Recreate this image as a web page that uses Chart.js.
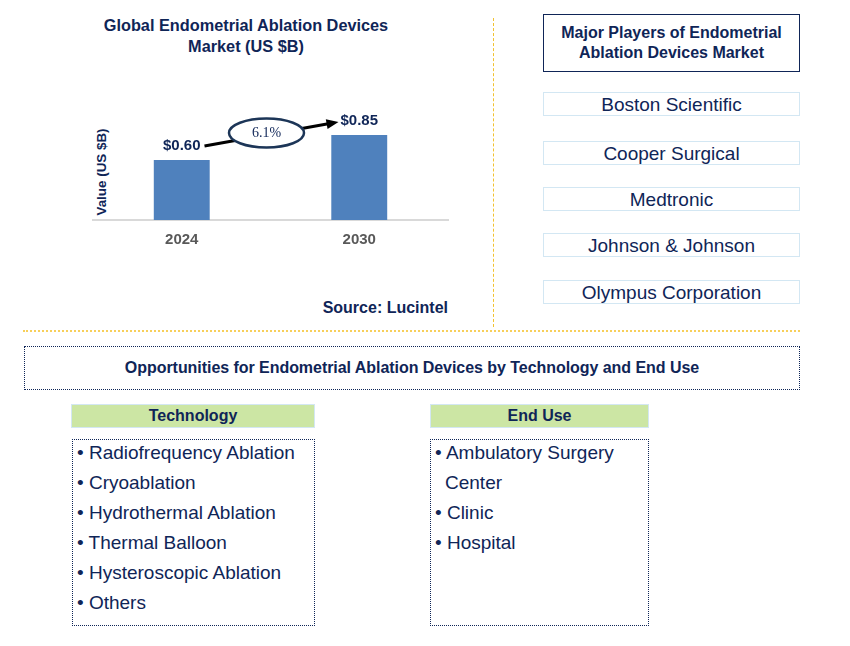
<!DOCTYPE html>
<html>
<head>
<meta charset="utf-8">
<script src="https://cdn.jsdelivr.net/npm/chart.js@4/dist/chart.umd.min.js"></script>
<style>
  body { margin: 0; width: 850px; height: 646px; background: #fff; font-family: "Liberation Sans", Arial, sans-serif; color: #0f2557; position: relative; overflow: hidden; }
  .abs { position: absolute; }
  .title { left: 86px; top: 15px; width: 320px; text-align: center; font-weight: bold; font-size: 16.3px; line-height: 21px; }
  .ytitle { left: 101px; top: 172px; transform: translate(-50%, -50%) rotate(-90deg); font-weight: bold; font-size: 13.4px; white-space: nowrap; }
  .source { left: 290px; top: 299px; width: 158px; text-align: right; font-weight: bold; font-size: 16px; }
  .vline { left: 493px; top: 18px; height: 309px; border-left: 1px dashed #f2c230; }
  .hline { left: 23px; top: 330px; width: 777px; border-top: 2px dotted #f7cf5a; }
  .head { left: 543px; top: 14px; width: 257px; height: 58px; border: 1px solid #0f2557; text-align: center; font-weight: bold; font-size: 16px; line-height: 20px; box-sizing: border-box; padding-top: 8px; }
  .player { left: 543px; width: 257px; height: 24px; border: 1.5px solid #d3e7f3; box-sizing: border-box; text-align: center; font-size: 19px; line-height: 23px; }
  .opp { left: 24px; top: 346px; width: 776px; height: 44px; border: 1px dotted #0f2557; box-sizing: border-box; text-align: center; font-weight: bold; font-size: 16px; line-height: 42px; letter-spacing: -0.05px; }
  .seg { height: 24px; background: #cce6a4; border: 1.5px solid #d3e7f3; box-sizing: border-box; text-align: center; font-weight: bold; font-size: 16px; line-height: 21px; top: 404px; }
  .list { top: 439px; height: 187px; border: 1px dotted #0f2557; box-sizing: border-box; font-size: 19px; line-height: 30px; padding: 0 0 0 4px; }
  .list div { white-space: nowrap; }
  .list div:first-child { margin-top: -2px; }
  .list div.cont { padding-left: 10px; }
</style>
</head>
<body>
<div class="abs title">Global Endometrial Ablation Devices<br>Market (US $B)</div>
<div class="abs ytitle">Value (US $B)</div>
<canvas id="c" class="abs" style="left:88px; top:80px;" width="370" height="180"></canvas>
<div class="abs source">Source: Lucintel</div>
<div class="abs vline"></div>
<div class="abs hline"></div>
<div class="abs head">Major Players of Endometrial<br>Ablation Devices Market</div>
<div id="players"></div>
<div class="abs opp">Opportunities for Endometrial Ablation Devices by Technology and End Use</div>
<div class="abs seg" style="left:71px; width:244px;">Technology</div>
<div class="abs seg" style="left:430px; width:219px;">End Use</div>
<div id="techList" class="abs list" style="left:72px; width:243px;"></div>
<div id="endList" class="abs list" style="left:430px; width:219px;"></div>
<script>
const years = ["2024", "2030"];
const values = [0.60, 0.85];
const valueLabels = ["$0.60", "$0.85"];
const cagr = "6.1%";
const players = ["Boston Scientific", "Cooper Surgical", "Medtronic", "Johnson & Johnson", "Olympus Corporation"];
const playerTops = [92, 141, 187, 233, 280];
const technology = ["Radiofrequency Ablation", "Cryoablation", "Hydrothermal Ablation", "Thermal Balloon", "Hysteroscopic Ablation", "Others"];
const endUse = [["Ambulatory Surgery", "Center"], ["Clinic"], ["Hospital"]];

const navy = "#0f2557";

// side panels
const pl = document.getElementById("players");
players.forEach((p, i) => {
  const d = document.createElement("div");
  d.className = "abs player";
  d.style.top = playerTops[i] + "px";
  d.textContent = p;
  pl.appendChild(d);
});
function fillList(el, items) {
  items.forEach(it => {
    const parts = Array.isArray(it) ? it : [it];
    parts.forEach((t, j) => {
      const d = document.createElement("div");
      if (j === 0) d.textContent = "\u2022 " + t;
      else { d.textContent = t; d.className = "cont"; }
      el.appendChild(d);
    });
  });
}
fillList(document.getElementById("techList"), technology);
fillList(document.getElementById("endList"), endUse);

// labels above bars + cagr arrow and bubble
const annotate = {
  id: "annotate",
  afterDatasetsDraw(chart) {
    const ctx = chart.ctx;
    const bars = chart.getDatasetMeta(0).data;
    ctx.save();
    ctx.font = "bold 15px 'Liberation Sans', Arial, sans-serif";
    ctx.fillStyle = navy;
    ctx.textAlign = "center";
    ctx.textBaseline = "middle";
    const pts = bars.map((b, i) => {
      const y = b.y - 14;
      ctx.fillText(valueLabels[i], b.x, y);
      const w = ctx.measureText(valueLabels[i]).width;
      return { x: b.x, y: y, w: w };
    });
    const x0 = pts[0].x + pts[0].w / 2 + 4, y0 = pts[0].y;
    const x1 = pts[1].x - pts[1].w / 2 - 2, y1 = pts[1].y + 1;
    const ang = Math.atan2(y1 - y0, x1 - x0);
    ctx.strokeStyle = "#000";
    ctx.lineWidth = 3;
    ctx.beginPath();
    ctx.moveTo(x0, y0);
    ctx.lineTo(x1 - 9 * Math.cos(ang), y1 - 9 * Math.sin(ang));
    ctx.stroke();
    ctx.fillStyle = "#000";
    ctx.beginPath();
    ctx.moveTo(x1, y1);
    ctx.lineTo(x1 - 12 * Math.cos(ang) + 5 * Math.sin(ang), y1 - 12 * Math.sin(ang) - 5 * Math.cos(ang));
    ctx.lineTo(x1 - 12 * Math.cos(ang) - 5 * Math.sin(ang), y1 - 12 * Math.sin(ang) + 5 * Math.cos(ang));
    ctx.closePath();
    ctx.fill();
    const cx = (x0 + x1) / 2 - 5, cy = (y0 + y1) / 2 - 1;
    ctx.beginPath();
    ctx.ellipse(cx, cy, 37.5, 14.5, 0, 0, Math.PI * 2);
    ctx.fillStyle = "#fff";
    ctx.fill();
    ctx.lineWidth = 2.5;
    ctx.strokeStyle = "#1c3557";
    ctx.stroke();
    ctx.fillStyle = navy;
    ctx.font = "14px 'Liberation Serif', 'Times New Roman', serif";
    ctx.fillText(cagr, cx, cy);
    ctx.restore();
  }
};

new Chart(document.getElementById("c"), {
  type: "bar",
  data: {
    labels: years,
    datasets: [{
      data: values,
      backgroundColor: "#4f81bd",
      categoryPercentage: 1,
      barPercentage: 0.315
    }]
  },
  options: {
    responsive: false,
    animation: false,
    layout: { padding: { left: 5, right: 10, top: 20, bottom: 0 } },
    plugins: { legend: { display: false }, tooltip: { enabled: false } },
    scales: {
      x: {
        grid: { display: false, drawTicks: false },
        border: { display: true, color: "#d9d9d9", width: 2 },
        ticks: { color: "#595959", font: { family: "'Liberation Sans', Arial, sans-serif", size: 15, weight: "bold" }, padding: 11 }
      },
      y: { display: false, min: 0, max: 1.2 }
    }
  },
  plugins: [annotate]
});
</script>
</body>
</html>
